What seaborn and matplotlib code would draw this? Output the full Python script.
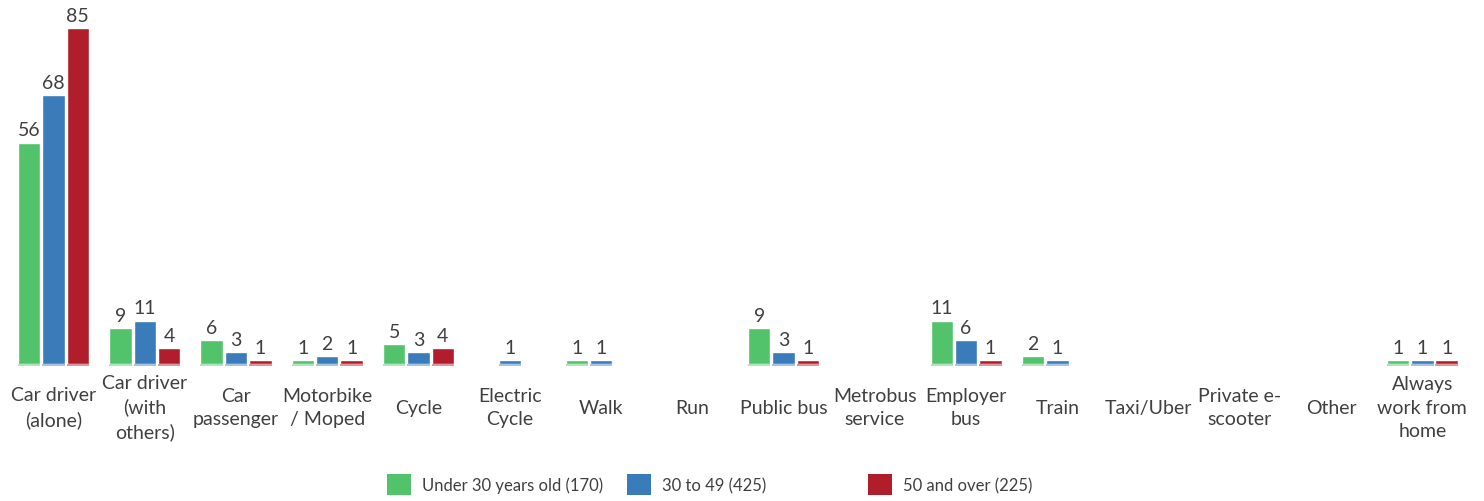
import matplotlib
matplotlib.use("Agg")
import matplotlib.pyplot as plt
import seaborn as sns
import pandas as pd
from matplotlib.patches import Rectangle

# Commute modes (tick labels wrapped as displayed)
categories = [
    "Car driver\n(alone)", "Car driver\n(with\nothers)", "Car\npassenger",
    "Motorbike\n/ Moped", "Cycle", "Electric\nCycle", "Walk", "Run",
    "Public bus", "Metrobus\nservice", "Employer\nbus", "Train",
    "Taxi/Uber", "Private e-\nscooter", "Other", "Always\nwork from\nhome",
]
series_names = ["Under 30 years old (170)", "30 to 49 (425)", "50 and over (225)"]
under_30 = [56, 9, 6, 1, 5, 0, 1, 0, 9, 0, 11, 2, 0, 0, 0, 1]
age_30_49 = [68, 11, 3, 2, 3, 1, 1, 0, 3, 0, 6, 1, 0, 0, 0, 1]
over_50 = [85, 4, 1, 1, 4, 0, 0, 0, 1, 0, 1, 0, 0, 0, 0, 1]
colors = ["#52C36B", "#3A7BBA", "#B01E2B"]

TEXT = "#404040"
FONT = ["Lato", "DejaVu Sans"]

sns.set_theme(style="white")
plt.rcParams["font.family"] = FONT

df = pd.DataFrame({
    "mode": categories * 3,
    "group": sum([[n] * len(categories) for n in series_names], []),
    "value": under_30 + age_30_49 + over_50,
})

fig = plt.figure(figsize=(14.84, 5.02), dpi=100)
ax = fig.add_axes([0.0053, 0.2729, 0.9839, 0.7088])

sns.barplot(data=df, x="mode", y="value", hue="group", order=categories,
            hue_order=series_names, palette=colors, width=0.8, gap=0.08,
            saturation=1, legend=False, ax=ax, errorbar=None)

ax.set_xlim(-0.5, len(categories) - 0.5)
ax.set_ylim(0, 90)
ax.set_xlabel("")
ax.set_ylabel("")
ax.set_yticks([])
for s in ax.spines.values():
    s.set_visible(False)

ax.tick_params(axis="x", length=0, pad=31, labelsize=14, labelcolor=TEXT)
for lbl in ax.get_xticklabels():
    lbl.set_verticalalignment("center")
    lbl.set_linespacing(1.45)

# Value labels (zeros are left blank) and soft reflection strip under each bar
series_vals = [under_30, age_30_49, over_50]
for cont, vals, col in zip(ax.containers, series_vals, colors):
    ax.bar_label(cont, labels=[str(v) if v else "" for v in vals],
                 padding=3, fontsize=14, color=TEXT)
    for p, v in zip(cont.patches, vals):
        if v:
            ax.add_patch(Rectangle((p.get_x(), 0), p.get_width(), -0.55,
                                   facecolor=col, alpha=0.45, lw=0,
                                   clip_on=False))

# Legend entries laid out in fixed-width slots
legend_x = [387, 627, 868]
for name, col, x in zip(series_names, colors, legend_x):
    h = Rectangle((0, 0), 1, 1, facecolor=col, edgecolor="none")
    fig.legend([h], [name], loc="center left",
               bbox_to_anchor=(x / 1484, 1 - 485.5 / 502),
               frameon=False, borderpad=0, borderaxespad=0,
               handlelength=1.44, handleheight=1.5, handletextpad=0.66,
               prop={"family": FONT, "size": 12}, labelcolor=TEXT)

fig.savefig("out.png", dpi=100)
